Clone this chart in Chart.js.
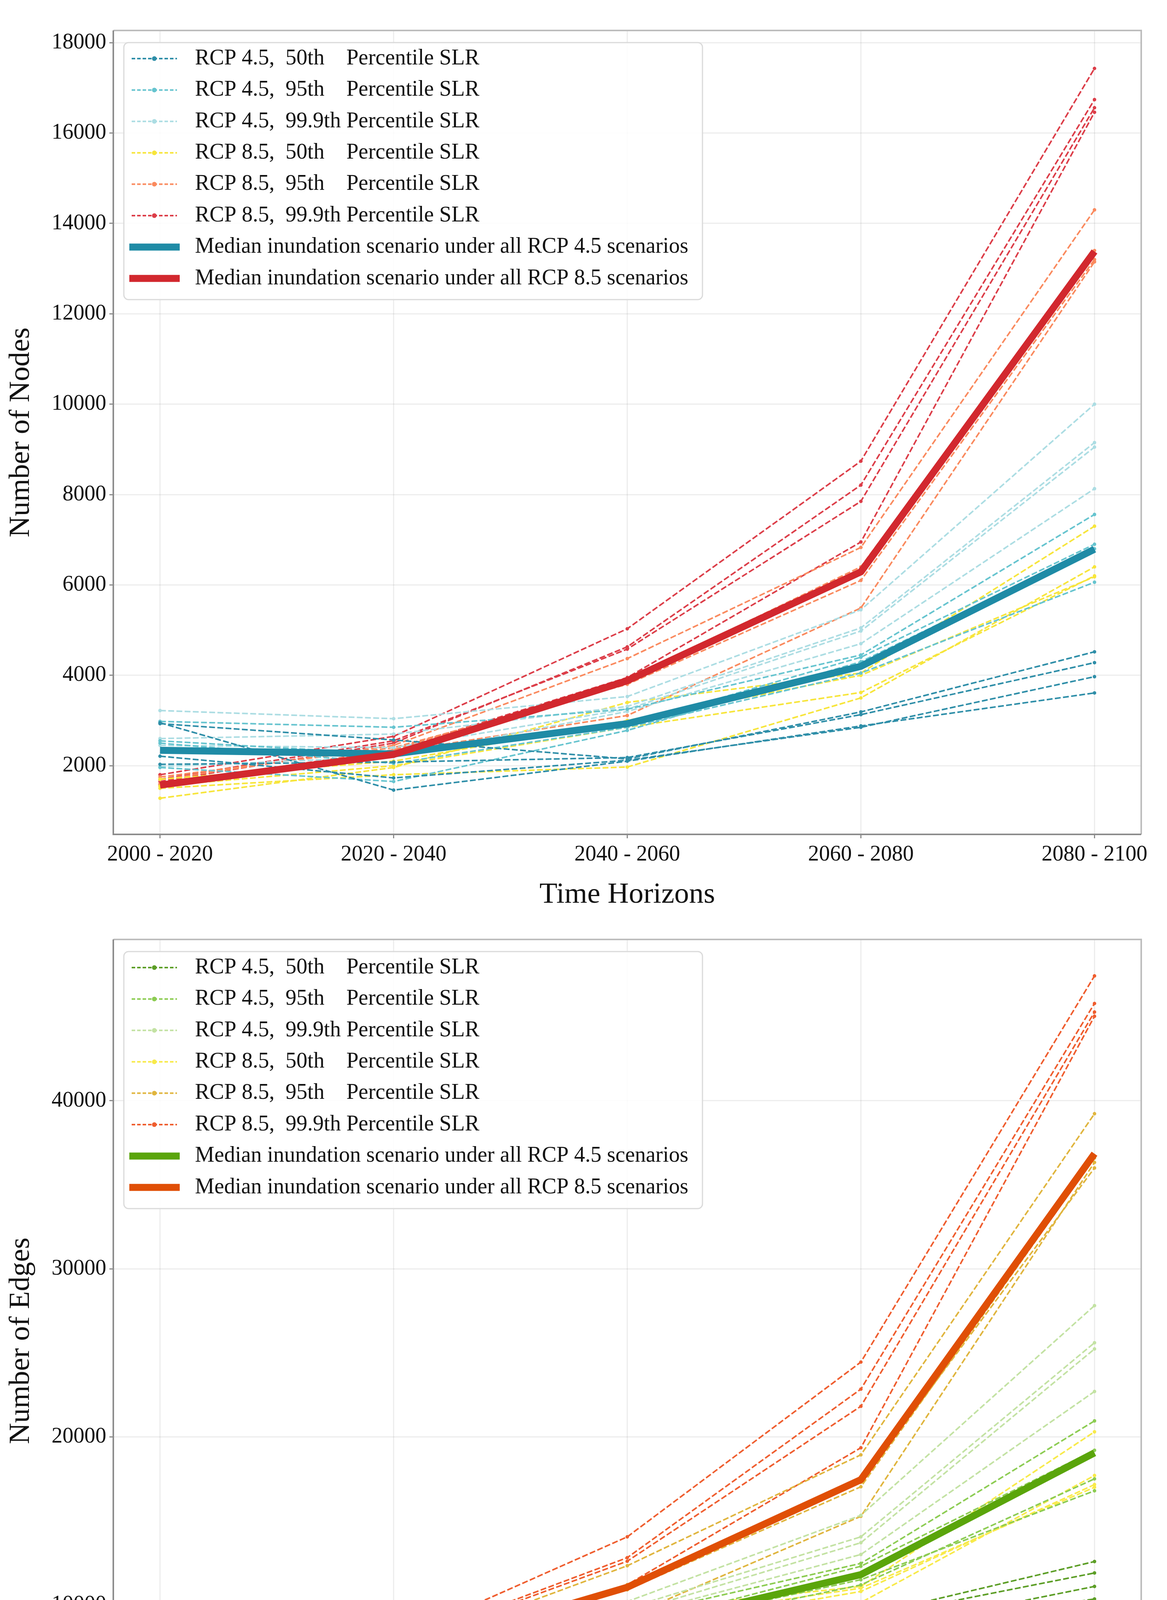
<!DOCTYPE html>
<html>
<head>
<meta charset="utf-8">
<script src="https://cdn.jsdelivr.net/npm/chart.js@4.4.1/dist/chart.umd.min.js"></script>
<style>
  html, body { margin: 0; padding: 0; background: #fff; }
  canvas { display: block; }
</style>
</head>
<body>
<canvas id="nodesChart" width="2987" height="2343"></canvas>
<canvas id="edgesChart" width="2987" height="2344"></canvas>
<script>
const horizons = ['2000 - 2020', '2020 - 2040', '2040 - 2060', '2060 - 2080', '2080 - 2100'];
const nodeTicks = [2000, 4000, 6000, 8000, 10000, 12000, 14000, 16000, 18000];
const edgeTicks = [10000, 20000, 30000, 40000];

const scenarioLabels = [
    'RCP 4.5,  50th    Percentile SLR',
    'RCP 4.5,  95th    Percentile SLR',
    'RCP 4.5,  99.9th Percentile SLR',
    'RCP 8.5,  50th    Percentile SLR',
    'RCP 8.5,  95th    Percentile SLR',
    'RCP 8.5,  99.9th Percentile SLR'
];
const medianLabels = [
    'Median inundation scenario under all RCP 4.5 scenarios',
    'Median inundation scenario under all RCP 8.5 scenarios'
];

// Number of nodes - four runs per scenario
const nodes45p50 = [
    [2930, 2570, 2150, 3190, 4520],
    [2950, 1460, 2100, 2880, 3610],
    [2210, 1730, 2120, 2850, 3970],
    [2030, 2080, 2180, 3130, 4280]
];
const nodes45p95 = [
    [2980, 2850, 3250, 4450, 7560],
    [2550, 2250, 2900, 4400, 6900],
    [1960, 1650, 2780, 4300, 6800],
    [2500, 2050, 2850, 4050, 6060]
];
const nodes45p999 = [
    [3220, 3040, 3530, 5450, 10000],
    [2600, 2700, 3310, 5050, 9150],
    [2450, 2400, 3250, 4980, 9050],
    [1980, 2200, 3200, 4700, 8130]
];
const nodes85p50 = [
    [1280, 1960, 3400, 4050, 7300],
    [1500, 1800, 1970, 3500, 6400],
    [1550, 2000, 2850, 3620, 6200],
    [1700, 2100, 3000, 4000, 6180]
];
const nodes85p95 = [
    [1690, 2450, 4370, 6830, 14300],
    [1600, 2300, 3110, 5490, 13150],
    [1550, 2350, 3900, 6400, 13400],
    [1750, 2400, 3800, 6100, 13200]
];
const nodes85p999 = [
    [1800, 2650, 5030, 8740, 17430],
    [1650, 2500, 4630, 8210, 16740],
    [1700, 2550, 4580, 7850, 16560],
    [1580, 2350, 3950, 6950, 16460]
];
const nodesMedian45 = [2340, 2260, 2930, 4200, 6790];
const nodesMedian85 = [1570, 2250, 3880, 6290, 13380];

// Number of edges - four runs per scenario
const edges45p50 = [
    [8600, 4580, 6560, 8400, 10350],
    [8500, 5200, 6670, 8300, 11100],
    [6500, 7900, 6600, 9280, 12580],
    [6300, 6400, 6700, 9150, 11900]
];
const edges45p95 = [
    [7700, 7500, 9300, 12470, 20950],
    [6500, 6500, 8700, 12300, 19200],
    [5700, 5470, 8300, 11190, 17500],
    [6900, 5800, 8500, 11500, 16790]
];
const edges45p999 = [
    [9280, 8750, 10200, 15330, 27810],
    [7800, 8400, 9800, 14050, 25600],
    [7400, 7600, 9500, 13700, 25230],
    [5900, 6800, 9300, 13000, 22700]
];
const edges85p50 = [
    [3900, 5800, 9600, 11100, 20300],
    [4600, 5500, 6080, 10140, 17700],
    [4800, 6200, 8400, 10800, 17160],
    [5100, 6400, 8900, 11000, 17000]
];
const edges85p95 = [
    [5400, 7200, 12330, 18930, 39230],
    [5000, 6700, 9300, 15270, 36330],
    [4700, 6800, 10900, 17030, 36600],
    [5200, 7000, 11200, 17300, 36000]
];
const edges85p999 = [
    [5630, 7880, 14050, 24450, 47430],
    [5300, 7600, 12810, 22840, 45790],
    [5100, 7500, 12600, 21820, 45280],
    [4950, 7000, 11200, 19350, 45030]
];
const edgesMedian45 = [7100, 6950, 8550, 11800, 19050];
const edgesMedian85 = [4900, 6950, 11050, 17450, 36850];

const nodeColors = ['#2e8ea8', '#66c4cf', '#acdde3', '#f7e53b', '#fa8a5e', '#dc3d48'];
const nodeMedianColors = ['#1f8ba6', '#d2282e'];
const edgeColors = ['#5c9e26', '#8ccc52', '#c3e2a3', '#f8ea4a', '#e0b53e', '#ef5d2e'];
const edgeMedianColors = ['#5aa50b', '#e04f06'];

Chart.defaults.font.family = '"Liberation Serif", "DejaVu Serif", serif';
Chart.defaults.color = '#111';

const tickFont = { size: 56 };
const titleFont = { size: 75 };
const gridColor = 'rgba(0, 0, 0, 0.07)';

function toPoints(values) {
    return values.map((v, i) => ({ x: i, y: v }));
}

function buildDatasets(groups, medians, colors, medianColors) {
    const sets = [];
    groups.forEach((runs, g) => {
        runs.forEach((run, r) => {
            sets.push({
                label: scenarioLabels[g],
                inLegend: r === 0,
                data: toPoints(run),
                borderColor: colors[g],
                backgroundColor: colors[g],
                borderWidth: 4,
                borderDash: [15, 6],
                pointRadius: 4.5,
                pointBorderWidth: 0,
                pointBackgroundColor: colors[g],
                order: 3
            });
        });
    });
    medians.forEach((m, k) => {
        sets.push({
            label: medianLabels[k],
            inLegend: true,
            median: true,
            data: toPoints(m),
            borderColor: medianColors[k],
            backgroundColor: medianColors[k],
            borderWidth: 18,
            borderJoinStyle: 'round',
            pointRadius: 0,
            order: 2 - k
        });
    });
    return sets;
}

// grey frame round the plot area
const frame = {
    id: 'frame',
    beforeDatasetsDraw(chart) {
        const { ctx, chartArea: a } = chart;
        ctx.save();
        ctx.lineWidth = 4;
        ctx.strokeStyle = '#bdbdbd';
        ctx.beginPath();
        ctx.moveTo(a.left, a.top);
        ctx.lineTo(a.right, a.top);
        ctx.lineTo(a.right, a.bottom);
        ctx.stroke();
        ctx.strokeStyle = '#8c8c8c';
        ctx.beginPath();
        ctx.moveTo(a.left, a.top);
        ctx.lineTo(a.left, a.bottom);
        ctx.lineTo(a.right, a.bottom);
        ctx.stroke();
        ctx.restore();
    }
};

// legend box in the upper left corner, drawn over the lines
const boxLegend = {
    id: 'boxLegend',
    afterDatasetsDraw(chart) {
        const { ctx, chartArea } = chart;
        const items = chart.data.datasets.filter(d => d.inLegend);
        const left = chartArea.left + 27;
        const top = chartArea.top + 31;
        const rowH = 80.4;
        const w = 1481;
        const h = 658;

        ctx.save();
        ctx.fillStyle = 'rgba(255, 255, 255, 0.85)';
        ctx.strokeStyle = '#dadada';
        ctx.lineWidth = 3;
        ctx.beginPath();
        ctx.roundRect(left, top, w, h, 12);
        ctx.fill();
        ctx.stroke();

        items.forEach((d, i) => {
            const y = top + 41 + i * rowH;
            ctx.strokeStyle = d.borderColor;
            if (d.median) {
                ctx.setLineDash([]);
                ctx.lineWidth = 18;
                ctx.beginPath();
                ctx.moveTo(left + 14, y);
                ctx.lineTo(left + 143, y);
                ctx.stroke();
            } else {
                ctx.setLineDash([9, 5]);
                ctx.lineWidth = 4;
                ctx.beginPath();
                ctx.moveTo(left + 20, y);
                ctx.lineTo(left + 136, y);
                ctx.stroke();
                ctx.fillStyle = d.borderColor;
                ctx.beginPath();
                ctx.arc(left + 78, y, 6, 0, Math.PI * 2);
                ctx.fill();
            }
            ctx.setLineDash([]);
            ctx.fillStyle = '#111';
            ctx.font = '56px "Liberation Serif", "DejaVu Serif", serif';
            ctx.textBaseline = 'middle';
            ctx.fillText(d.label, left + 182, y);
        });
        ctx.restore();
    }
};

function chartOptions(yMin, yMax, yTicks, yTitle, padTop, xHeight, titlePadBottom) {
    return {
        responsive: false,
        animation: false,
        devicePixelRatio: 1,
        layout: { padding: { top: padTop, right: 66, left: 0, bottom: 0 } },
        plugins: {
            legend: { display: false },
            tooltip: { enabled: false }
        },
        scales: {
            x: {
                type: 'linear',
                min: -0.2,
                max: 4.2,
                afterFit: s => { s.height = xHeight; },
                afterBuildTicks: s => { s.ticks = horizons.map((h, i) => ({ value: i })); },
                grid: { color: gridColor, lineWidth: 3, tickLength: 10, tickColor: '#8c8c8c', tickWidth: 3 },
                border: { display: false },
                ticks: {
                    padding: 9,
                    maxRotation: 0,
                    autoSkip: false,
                    font: tickFont,
                    callback: v => horizons[v]
                },
                title: {
                    display: true,
                    text: 'Time Horizons',
                    font: titleFont,
                    padding: { top: 0, bottom: titlePadBottom }
                }
            },
            y: {
                min: yMin,
                max: yMax,
                afterFit: s => { s.width = 290; },
                afterBuildTicks: s => { s.ticks = yTicks.map(v => ({ value: v })); },
                grid: { color: gridColor, lineWidth: 3, tickLength: 10, tickColor: '#8c8c8c', tickWidth: 3 },
                border: { display: false },
                ticks: {
                    padding: 8,
                    autoSkip: false,
                    font: tickFont,
                    callback: v => String(v)
                },
                title: {
                    display: true,
                    text: yTitle,
                    font: titleFont,
                    padding: { top: 9, bottom: 0 }
                }
            }
        }
    };
}

// Number of nodes
const nodesChart = new Chart(
    document.getElementById('nodesChart'),
    {
        type: 'line',
        data: {
            datasets: buildDatasets(
                [nodes45p50, nodes45p95, nodes45p999, nodes85p50, nodes85p95, nodes85p999],
                [nodesMedian45, nodesMedian85],
                nodeColors,
                nodeMedianColors
            )
        },
        options: chartOptions(480, 18270, nodeTicks, 'Number of Nodes', 78, 207, 7),
        plugins: [frame, boxLegend]
    }
);

// Number of edges
const edgesChart = new Chart(
    document.getElementById('edgesChart'),
    {
        type: 'line',
        data: {
            datasets: buildDatasets(
                [edges45p50, edges45p95, edges45p999, edges85p50, edges85p95, edges85p999],
                [edgesMedian45, edgesMedian85],
                edgeColors,
                edgeMedianColors
            )
        },
        options: chartOptions(1830, 49600, edgeTicks, 'Number of Edges', 62, 227, 27),
        plugins: [frame, boxLegend]
    }
);
</script>
</body>
</html>
